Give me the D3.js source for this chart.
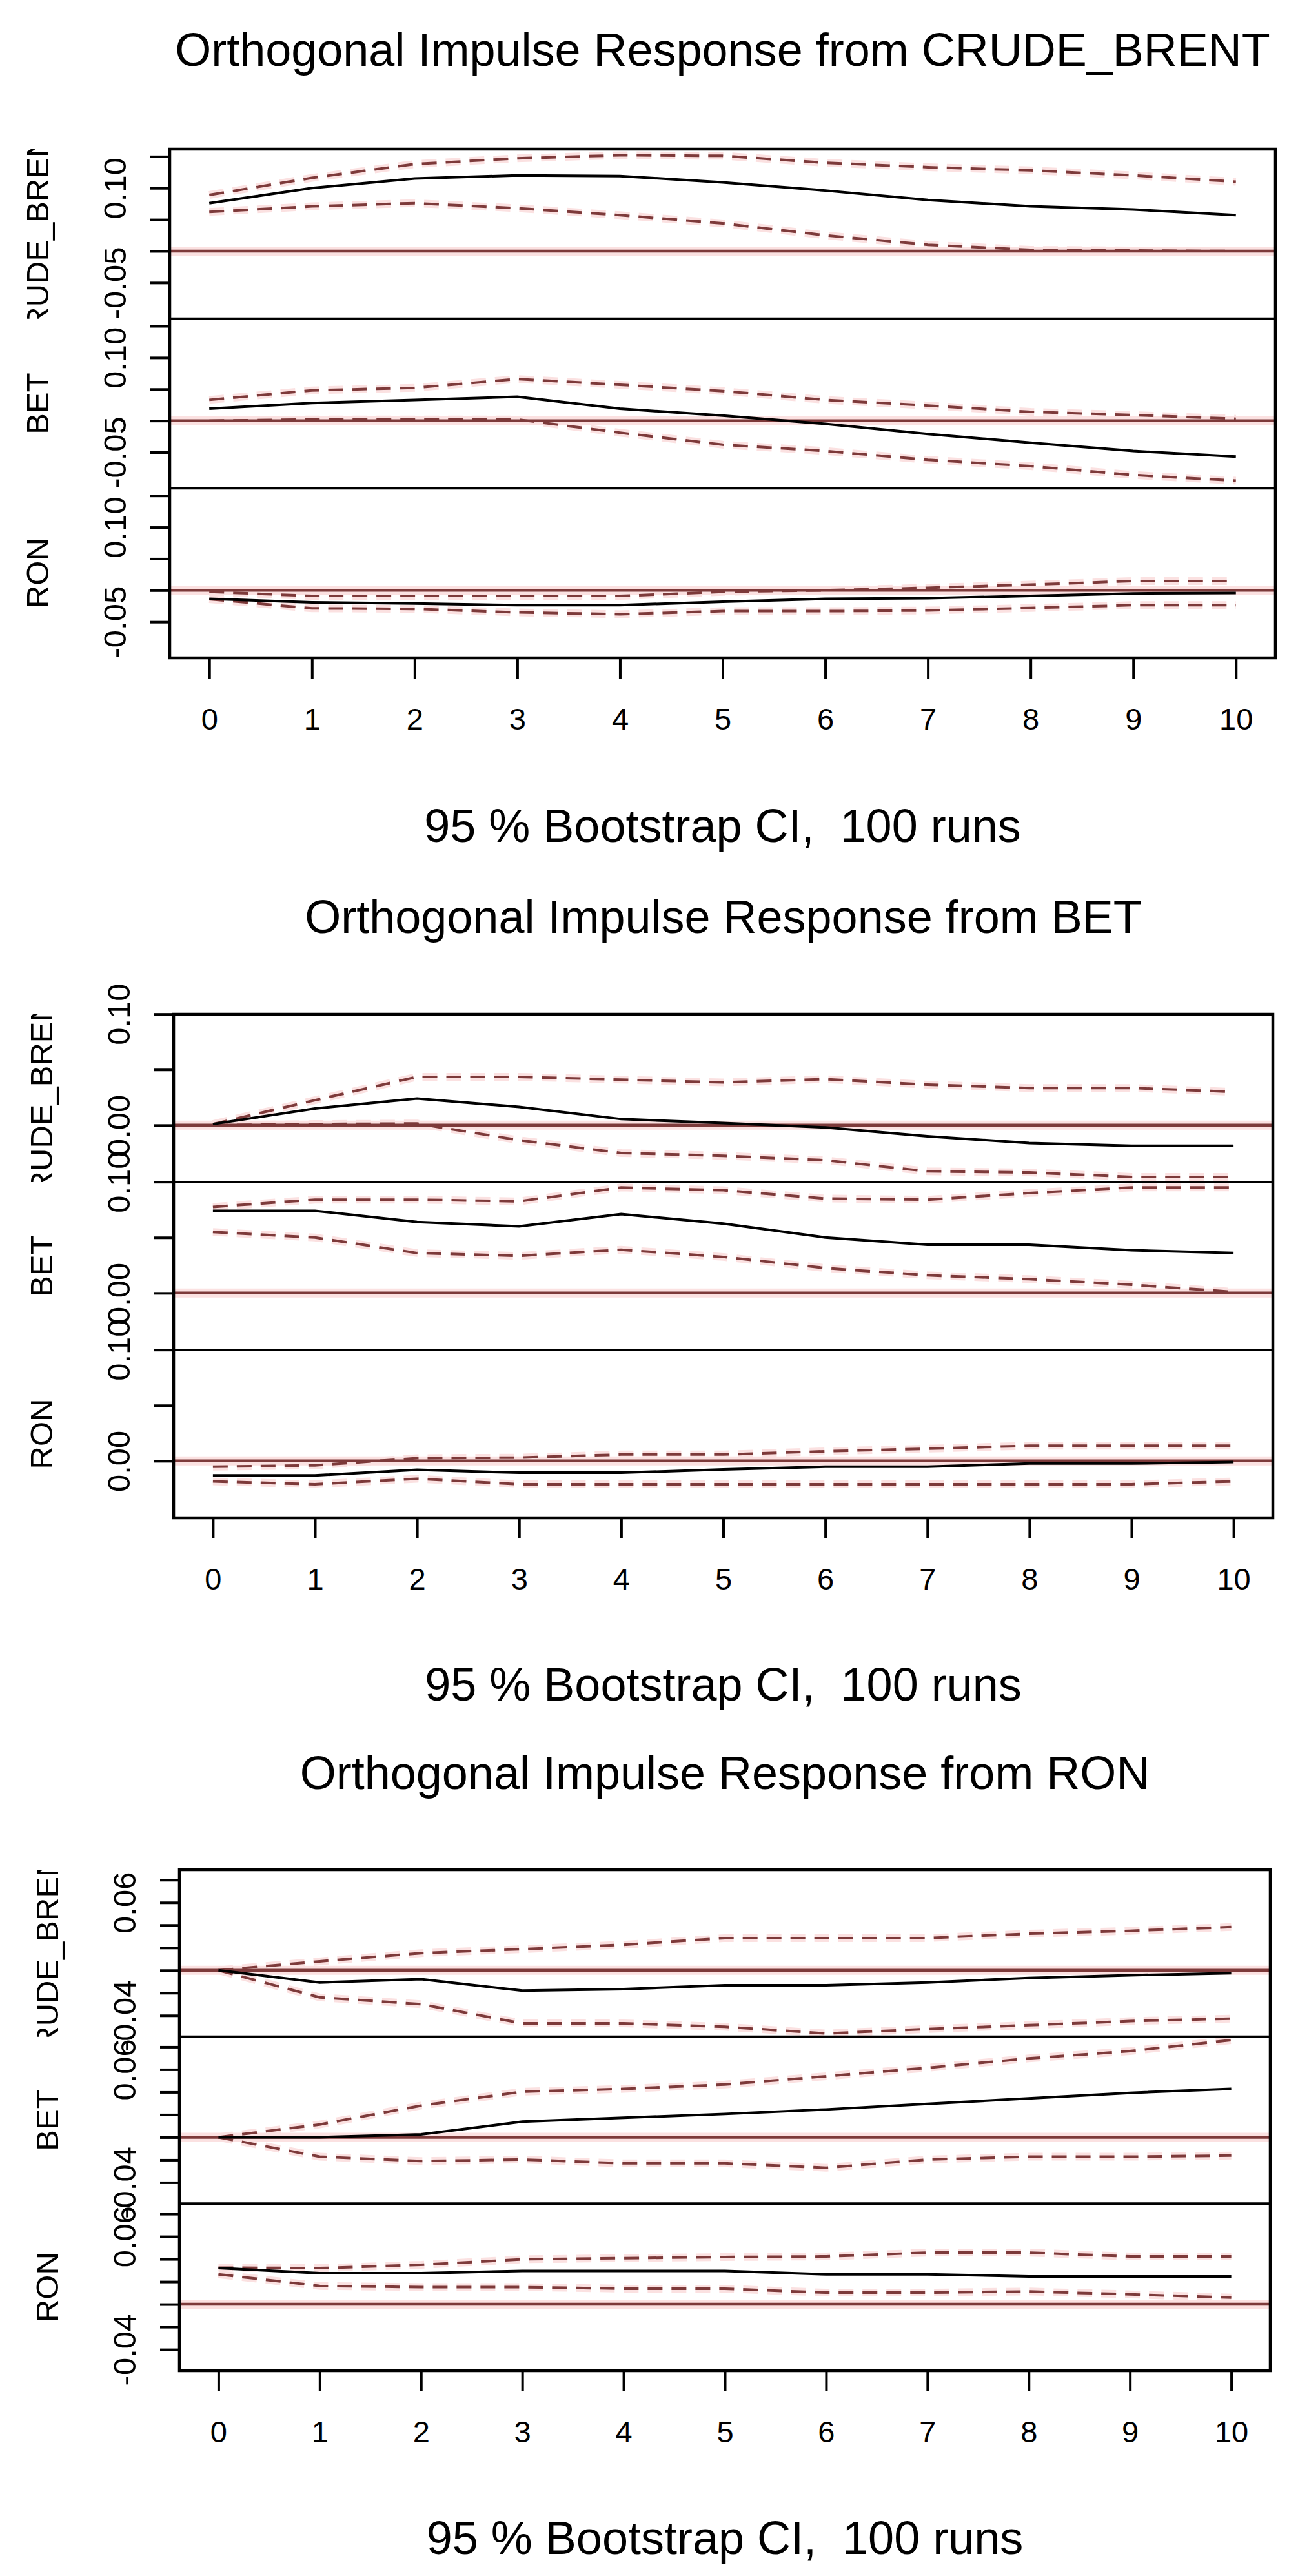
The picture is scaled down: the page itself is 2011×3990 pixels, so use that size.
<!DOCTYPE html>
<html>
<head>
<meta charset="utf-8">
<script src="https://cdn.jsdelivr.net/npm/d3@7/dist/d3.min.js"></script>
<style>
  html, body { margin: 0; padding: 0; background: #ffffff; }
  svg { display: block; }
  text { font-family: "Liberation Sans", Arial, "DejaVu Sans", sans-serif; fill: #000; }
</style>
</head>
<body>
<svg id="chart" width="2011" height="3990"></svg>
<script>
// ---------------- DATA ----------------
const horizons = [0, 1, 2, 3, 4, 5, 6, 7, 8, 9, 10];
const xTickLabels = ["0", "1", "2", "3", "4", "5", "6", "7", "8", "9", "10"];
const variables = ["CRUDE_BRENT", "BET", "RON"];
const titles = [
  "Orthogonal Impulse Response from CRUDE_BRENT",
  "Orthogonal Impulse Response from BET",
  "Orthogonal Impulse Response from RON"
];
const subtitle = "95 % Bootstrap CI,  100 runs";

// y-limits of each figure (shared by its three response rows)
const ylimCrude = [-0.1071, 0.1616];
const ylimBet = [-0.0512, 0.0998];
const ylimRon = [-0.0588, 0.0890];

// y ticks and which of them carry a label
const yTicksCrude = [-0.05, 0.00, 0.05, 0.10, 0.15];
const yLabelledCrude = [-0.05, 0.10];
const yTicksBet = [0.00, 0.05, 0.10];
const yLabelledBet = [0.00, 0.10];
const yTicksRon = [-0.04, -0.02, 0.00, 0.02, 0.04, 0.06, 0.08];
const yLabelledRon = [-0.04, 0.06];

// Impulse CRUDE_BRENT
const irfCrudeCrude   = [0.076, 0.100, 0.115, 0.120, 0.119, 0.109, 0.096, 0.081, 0.071, 0.066, 0.057];
const upperCrudeCrude = [0.089, 0.116, 0.138, 0.147, 0.152, 0.151, 0.140, 0.133, 0.128, 0.120, 0.110];
const lowerCrudeCrude = [0.062, 0.071, 0.076, 0.068, 0.057, 0.044, 0.025, 0.010, 0.002, 0.001, 0.000];
const irfCrudeBet     = [0.019, 0.028, 0.033, 0.038, 0.019, 0.008, -0.005, -0.021, -0.035, -0.048, -0.057];
const upperCrudeBet   = [0.033, 0.048, 0.052, 0.066, 0.057, 0.047, 0.033, 0.024, 0.014, 0.009, 0.003];
const lowerCrudeBet   = [0.000, 0.002, 0.002, 0.002, -0.019, -0.038, -0.048, -0.062, -0.072, -0.086, -0.095];
const irfCrudeRon     = [-0.0136, -0.019, -0.021, -0.0235, -0.0235, -0.018, -0.0136, -0.0125, -0.009, -0.005, -0.0044];
const upperCrudeRon   = [-0.0024, -0.009, -0.009, -0.009, -0.009, -0.0024, 0.000, 0.004, 0.009, 0.0147, 0.0147];
const lowerCrudeRon   = [-0.014, -0.0286, -0.0295, -0.035, -0.038, -0.033, -0.033, -0.032, -0.028, -0.0235, -0.0235];

// Impulse BET
const irfBetCrude     = [0.001, 0.015, 0.024, 0.0165, 0.0055, 0.002, -0.002, -0.010, -0.016, -0.0185, -0.0185];
const upperBetCrude   = [0.001, 0.0225, 0.0435, 0.0435, 0.041, 0.0385, 0.0415, 0.0365, 0.0335, 0.0335, 0.030];
const lowerBetCrude   = [0.000, 0.001, 0.0015, -0.0135, -0.025, -0.0275, -0.0315, -0.0415, -0.0425, -0.0465, -0.0465];
const irfBetBet       = [0.074, 0.074, 0.064, 0.060, 0.071, 0.0625, 0.050, 0.0435, 0.0435, 0.0385, 0.036];
const upperBetBet     = [0.0775, 0.084, 0.084, 0.0825, 0.095, 0.0925, 0.085, 0.084, 0.090, 0.095, 0.095];
const lowerBetBet     = [0.055, 0.050, 0.036, 0.0335, 0.039, 0.0325, 0.0225, 0.016, 0.0125, 0.0075, 0.001];
const irfBetRon       = [-0.013, -0.013, -0.008, -0.0106, -0.0106, -0.0077, -0.0052, -0.0052, -0.0023, -0.0023, -0.001];
const upperBetRon     = [-0.0052, -0.004, 0.0025, 0.003, 0.0058, 0.0058, 0.0087, 0.011, 0.0137, 0.0137, 0.0137];
const lowerBetRon     = [-0.0184, -0.021, -0.016, -0.021, -0.021, -0.021, -0.021, -0.021, -0.021, -0.021, -0.0184];

// Impulse RON
const irfRonCrude     = [0.000, -0.0108, -0.0079, -0.018, -0.0167, -0.0133, -0.0133, -0.0108, -0.0069, -0.0044, -0.0025];
const upperRonCrude   = [0.000, 0.0079, 0.0152, 0.0187, 0.0226, 0.0285, 0.0285, 0.0285, 0.0324, 0.0349, 0.0383];
const lowerRonCrude   = [0.000, -0.024, -0.030, -0.047, -0.047, -0.050, -0.056, -0.052, -0.0486, -0.045, -0.0428];
const irfRonBet       = [0.000, 0.000, 0.0025, 0.0138, 0.0172, 0.0206, 0.0246, 0.0295, 0.0344, 0.0393, 0.0428];
const upperRonBet     = [0.000, 0.0113, 0.028, 0.0403, 0.0428, 0.0467, 0.054, 0.0614, 0.0698, 0.0762, 0.086];
const lowerRonBet     = [0.000, -0.0172, -0.0211, -0.0197, -0.0231, -0.0231, -0.027, -0.0197, -0.0172, -0.0172, -0.0162];
const irfRonRon       = [0.032, 0.0275, 0.0275, 0.0295, 0.0295, 0.0295, 0.0265, 0.0265, 0.0246, 0.0246, 0.0246];
const upperRonRon     = [0.0324, 0.032, 0.0349, 0.0398, 0.0408, 0.0418, 0.0423, 0.0457, 0.0457, 0.0423, 0.0423];
const lowerRonRon     = [0.0265, 0.0162, 0.0152, 0.0152, 0.0138, 0.0138, 0.0103, 0.0103, 0.0113, 0.0088, 0.0059];

// assemble per figure (built from the arrays above)
const figures = [
  { title: titles[0], ylim: ylimCrude, ticks: yTicksCrude, labelled: yLabelledCrude,
    rows: [[irfCrudeCrude, upperCrudeCrude, lowerCrudeCrude],
           [irfCrudeBet, upperCrudeBet, lowerCrudeBet],
           [irfCrudeRon, upperCrudeRon, lowerCrudeRon]] },
  { title: titles[1], ylim: ylimBet, ticks: yTicksBet, labelled: yLabelledBet,
    rows: [[irfBetCrude, upperBetCrude, lowerBetCrude],
           [irfBetBet, upperBetBet, lowerBetBet],
           [irfBetRon, upperBetRon, lowerBetRon]] },
  { title: titles[2], ylim: ylimRon, ticks: yTicksRon, labelled: yLabelledRon,
    rows: [[irfRonCrude, upperRonCrude, lowerRonCrude],
           [irfRonBet, upperRonBet, lowerRonBet],
           [irfRonRon, upperRonRon, lowerRonRon]] }
];

// ---------------- LAYOUT / STYLE ----------------
const layout = [
  { left: 263, right: 1976, top: 231,  bottom: 1019, titleY: 102,  subY: 1304 },
  { left: 269, right: 1972, top: 1571, bottom: 2351, titleY: 1445, subY: 2634 },
  { left: 278, right: 1968, top: 2896, bottom: 3672, titleY: 2771, subY: 3956 }
];
const RED = "#7d3a3a";
const HALO = "#fbe1e1";
const DASH = "23,14";
const fmt2 = v => d3.format(".2f")(v).replace("\u2212", "-");

const svg = d3.select("#chart");
const defs = svg.append("defs");

figures.forEach((fig, fi) => {
  const L = layout[fi];
  const g = svg.append("g");
  const x = d3.scaleLinear().domain([-0.385, 10.385]).range([L.left, L.right]);
  const subH = (L.bottom - L.top) / 3;

  // title
  g.append("text")
    .attr("x", (L.left + L.right) / 2).attr("y", L.titleY)
    .attr("text-anchor", "middle").style("font-size", "72px")
    .text(fig.title);

  fig.rows.forEach((row, ri) => {
    const sTop = L.top + ri * subH, sBot = sTop + subH;
    const y = d3.scaleLinear().domain(fig.ylim).range([sBot, sTop]);
    const [irf, upper, lower] = row;
    const pts = arr => horizons.map((h, i) => ({ h: h, v: arr[i] }));
    const line = d3.line().x(d => x(d.h)).y(d => y(d.v));

    // clip for the row
    const cid = "clip" + fi + "_" + ri;
    defs.append("clipPath").attr("id", cid).append("rect")
      .attr("x", L.left).attr("y", sTop).attr("width", L.right - L.left).attr("height", subH);
    const lid = "lclip" + fi + "_" + ri;
    defs.append("clipPath").attr("id", lid).append("rect")
      .attr("x", 0).attr("y", sTop).attr("width", L.left).attr("height", subH);

    const pg = g.append("g").attr("clip-path", "url(#" + cid + ")");

    // zero line (halo + core)
    pg.append("line").attr("x1", L.left).attr("x2", L.right)
      .attr("y1", y(0)).attr("y2", y(0))
      .attr("stroke", HALO).attr("stroke-width", 14);
    [upper, lower].forEach(arr => {
      pg.append("path").datum(pts(arr)).attr("d", line)
        .attr("fill", "none").attr("stroke", HALO).attr("stroke-width", 12)
        .attr("stroke-dasharray", DASH);
    });
    pg.append("line").attr("x1", L.left).attr("x2", L.right)
      .attr("y1", y(0)).attr("y2", y(0))
      .attr("stroke", RED).attr("stroke-width", 4.5);

    // CI bands
    [upper, lower].forEach(arr => {
      pg.append("path").datum(pts(arr)).attr("d", line)
        .attr("fill", "none").attr("stroke", RED).attr("stroke-width", 4)
        .attr("stroke-dasharray", DASH);
    });
    // point estimate
    pg.append("path").datum(pts(irf)).attr("d", line)
      .attr("fill", "none").attr("stroke", "#000").attr("stroke-width", 4);

    // y axis
    const labelled = new Set(fig.labelled.map(v => v.toFixed(3)));
    const ax = g.append("g").attr("transform", "translate(" + L.left + ",0)")
      .call(d3.axisLeft(y).tickValues(fig.ticks).tickSize(30)
        .tickFormat(v => labelled.has(v.toFixed(3)) ? fmt2(v) : ""));
    ax.select(".domain").remove();
    ax.selectAll(".tick line").attr("stroke", "#000").attr("stroke-width", 4);
    ax.selectAll(".tick text")
      .attr("transform", "rotate(-90)")
      .attr("x", 0).attr("y", -68).attr("dy", 0)
      .attr("text-anchor", "middle")
      .attr("fill", "#000")
      .style("font-size", "49px")
      .style("font-family", "'Liberation Sans', Arial, sans-serif");

    // variable name (clipped to its row)
    g.append("g").attr("clip-path", "url(#" + lid + ")")
      .append("text")
      .attr("transform", "translate(" + (L.left - 188) + "," + ((sTop + sBot) / 2) + ") rotate(-90)")
      .attr("text-anchor", "middle").style("font-size", "49px")
      .text(variables[ri]);
  });

  // box and row separators
  g.append("rect").attr("x", L.left).attr("y", L.top)
    .attr("width", L.right - L.left).attr("height", L.bottom - L.top)
    .attr("fill", "none").attr("stroke", "#000").attr("stroke-width", 4.5);
  [1, 2].forEach(k => {
    const yy = L.top + k * subH;
    g.append("line").attr("x1", L.left).attr("x2", L.right)
      .attr("y1", yy).attr("y2", yy).attr("stroke", "#000").attr("stroke-width", 4);
  });

  // x axis
  const xa = g.append("g").attr("transform", "translate(0," + L.bottom + ")")
    .call(d3.axisBottom(x).tickValues(horizons).tickSize(32)
      .tickFormat((d, i) => xTickLabels[i]));
  xa.select(".domain").remove();
  xa.selectAll(".tick line").attr("stroke", "#000").attr("stroke-width", 4);
  xa.selectAll(".tick text")
    .attr("y", 111).attr("dy", 0).attr("fill", "#000")
    .style("font-size", "47px")
    .style("font-family", "'Liberation Sans', Arial, sans-serif");

  // subtitle
  g.append("text")
    .attr("x", (L.left + L.right) / 2).attr("y", L.subY)
    .attr("text-anchor", "middle").style("font-size", "72px")
    .style("white-space", "pre").attr("xml:space", "preserve")
    .text(subtitle);
});
</script>
</body>
</html>
